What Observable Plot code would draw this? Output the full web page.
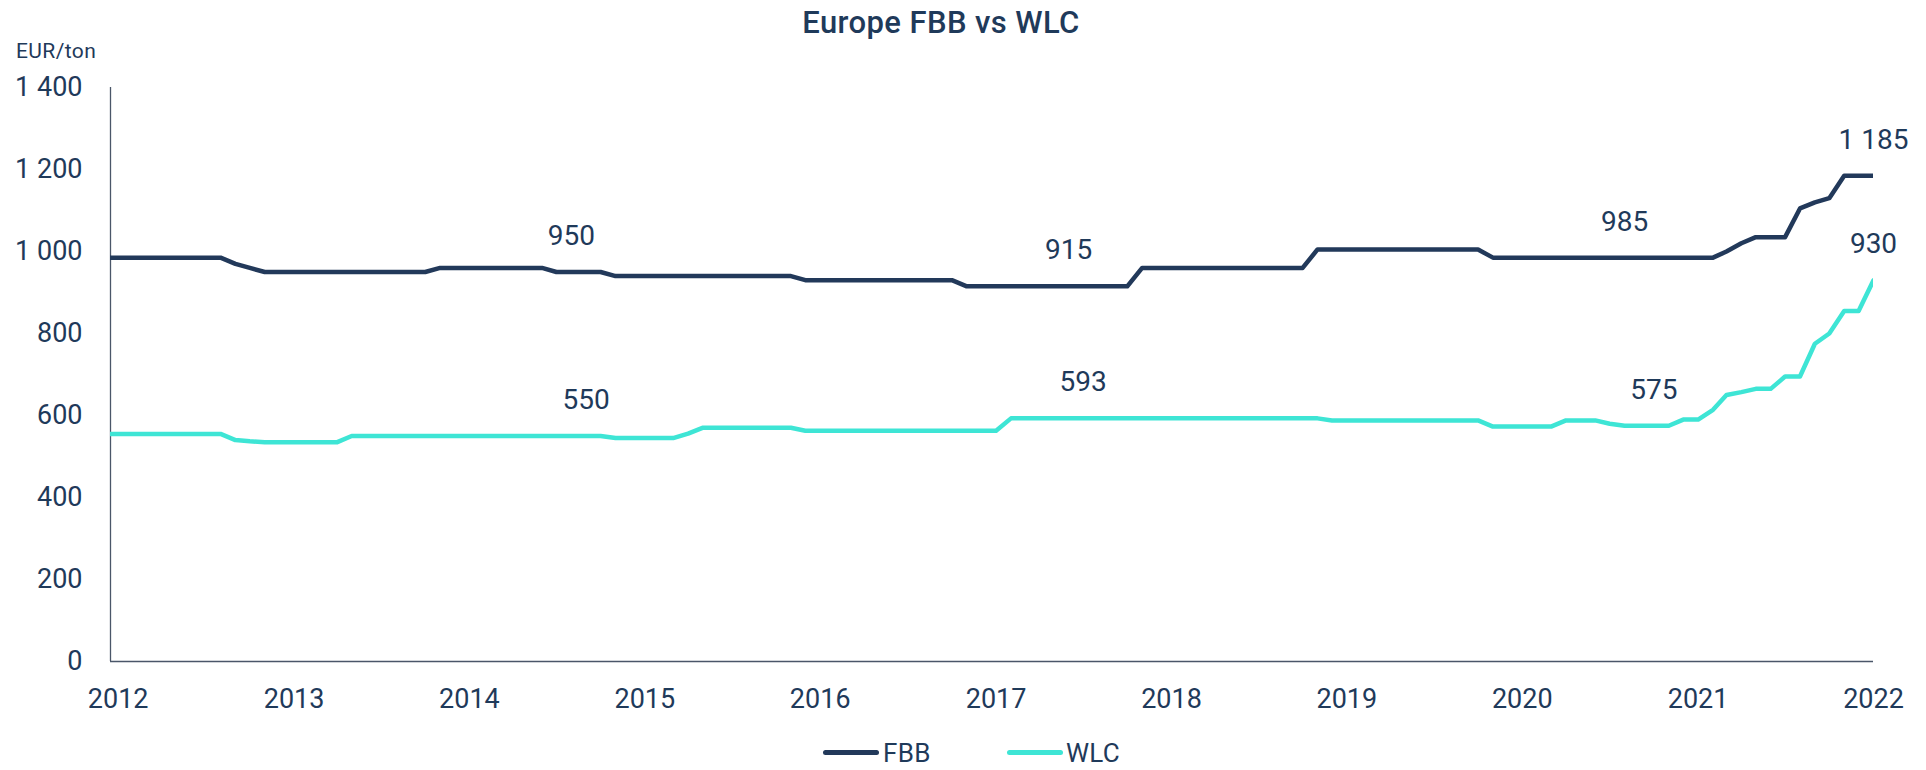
<!DOCTYPE html>
<html>
<head>
<meta charset="utf-8">
<script src="https://cdn.jsdelivr.net/npm/d3@7"></script>
<script src="https://cdn.jsdelivr.net/npm/@observablehq/plot@0.6"></script>
<style>
  body { margin: 0; background: #fff; font-family: Roboto, "Noto Sans", sans-serif; }
  #wrap { position: relative; width: 1926px; height: 770px; overflow: hidden; background: #fff; }
  #chart { position: absolute; left: 0; top: 0; }
  .title { position: absolute; left: 0; width: 1882px; text-align: center; top: 7px; font-size: 31px; line-height: 1; font-weight: 500; letter-spacing: 0.4px; color: #1f3a5a; white-space: nowrap; }
  .unit { position: absolute; left: 16px; top: 41px; font-size: 21px; line-height: 1; letter-spacing: 0.4px; color: #1f3a5a; white-space: nowrap; }
  .legend { position: absolute; top: 740px; font-size: 26px; line-height: 1; letter-spacing: 0.3px; color: #1f3a5a; white-space: nowrap; }
  .sw { position: absolute; top: 750px; width: 56px; height: 5px; border-radius: 3px; }
</style>
</head>
<body>
<div id="wrap">
  <div id="chart"></div>
  <div class="title">Europe FBB vs WLC</div>
  <div class="unit">EUR/ton</div>
  <div class="sw" id="sw1" style="left:823px"></div>
  <div class="legend" id="lg1" style="left:883px"></div>
  <div class="sw" id="sw2" style="left:1007px"></div>
  <div class="legend" id="lg2" style="left:1066px"></div>
</div>
<script>
// ---- data ----
const seriesNames = ["FBB", "WLC"];
const seriesColors = ["#22395a", "#3ee5d5"];
const startMonth = "2011-12"; // first monthly observation
// FBB monthly price, EUR/ton (Dec 2011 .. Jan 2022)
const fbb = [
  985, 985, 985, 985, 985, 985, 985, 985, 985, 970, 960,
  950, 950, 950, 950, 950, 950, 950, 950, 950, 950, 950, 950,
  960, 960, 960, 960, 960, 960, 960, 960,
  950, 950, 950, 950,
  940, 940, 940, 940, 940, 940, 940, 940, 940, 940, 940, 940, 940,
  930, 930, 930, 930, 930, 930, 930, 930, 930, 930, 930,
  915, 915, 915, 915, 915, 915, 915, 915, 915, 915, 915, 915,
  960, 960, 960, 960, 960, 960, 960, 960, 960, 960, 960, 960,
  1005, 1005, 1005, 1005, 1005, 1005, 1005, 1005, 1005, 1005, 1005, 1005,
  985, 985, 985, 985, 985, 985, 985, 985, 985, 985, 985, 985, 985, 985, 985, 985,
  1000, 1020, 1035, 1035, 1035, 1105, 1120, 1130, 1185, 1185, 1185
];
// WLC monthly price, EUR/ton (Dec 2011 .. Jan 2022)
const wlc = [
  555, 555, 555, 555, 555, 555, 555, 555, 555, 540, 537,
  535, 535, 535, 535, 535, 535,
  550, 550, 550, 550, 550, 550, 550, 550, 550, 550, 550, 550, 550, 550, 550, 550, 550, 550,
  545, 545, 545, 545, 545, 556,
  570, 570, 570, 570, 570, 570, 570,
  563, 563, 563, 563, 563, 563, 563, 563, 563, 563, 563, 563, 563, 563,
  593, 593, 593, 593, 593, 593, 593, 593, 593, 593, 593,
  593, 593, 593, 593, 593, 593, 593, 593, 593, 593, 593,
  588, 588, 588, 588, 588, 588, 588, 588, 588, 588, 588,
  573, 573, 573, 573, 573, 588, 588, 588, 580,
  575, 575, 575, 575, 590, 590,
  614, 650, 657, 665, 665, 695, 695, 775, 800, 855, 855, 930
];
// annotated months per series
const fbbLabelMonths = ["2014-08", "2017-06", "2020-08", "2022-01"];
const wlcLabelMonths = ["2014-09", "2017-07", "2020-10", "2022-01"];
// axis ticks
const yearTicks = [2012, 2013, 2014, 2015, 2016, 2017, 2018, 2019, 2020, 2021, 2022];
const yTicks = [0, 200, 400, 600, 800, 1000, 1200, 1400];

// ---- build ----
const parseMonth = d3.utcParse("%Y-%m");
const fmt = d3.formatLocale({decimal: ",", thousands: " ", grouping: [3], currency: ["", ""]}).format(",d");
const start = parseMonth(startMonth);
const toRows = (vals, name) => vals.map((v, i) => ({date: d3.utcMonth.offset(start, i), value: v, series: name}));
const fbbRows = toRows(fbb, "FBB");
const wlcRows = toRows(wlc, "WLC");
const pick = (rows, months) => months.map(m => rows.find(r => +r.date === +parseMonth(m)));
const labels = [...pick(fbbRows, fbbLabelMonths), ...pick(wlcRows, wlcLabelMonths)];
const xStart = new Date(Date.UTC(2011, 11, 16));
const xEnd = new Date(Date.UTC(2022, 0, 1));
const yearDates = yearTicks.map(y => new Date(Date.UTC(y, 0, 1)));
const axisColor = "#4a5669";
const textColor = "#1f3a5a";

const chart = Plot.plot({
  width: 1926,
  height: 770,
  marginLeft: 110,
  marginRight: 53,
  marginTop: 87,
  marginBottom: 109,
  style: {fontFamily: "Roboto, 'Noto Sans', sans-serif", fontSize: "27px", color: textColor, background: "transparent", overflow: "visible"},
  x: {type: "utc", domain: [xStart, xEnd]},
  y: {domain: [0, 1400]},
  marks: [
    Plot.axisX(yearDates, {tickFormat: d3.utcFormat("%Y"), tickSize: 0, tickPadding: 27, label: null, fontSize: 27}),
    Plot.axisY(yTicks, {tickFormat: fmt, tickSize: 0, tickPadding: 28, label: null, fontSize: 27}),
    Plot.ruleX([xStart], {y1: 0, y2: 1400, stroke: axisColor, strokeWidth: 1.3}),
    Plot.ruleY([0], {stroke: axisColor, strokeWidth: 1.5}),
    Plot.line(fbbRows, {x: "date", y: "value", stroke: seriesColors[0], strokeWidth: 4.5, clip: true}),
    Plot.line(wlcRows, {x: "date", y: "value", stroke: seriesColors[1], strokeWidth: 4.5, clip: true}),
    Plot.text(labels, {x: "date", y: "value", text: d => fmt(d.value), dy: -36, fontSize: 28, fill: textColor})
  ]
});
document.getElementById("chart").appendChild(chart);
document.getElementById("sw1").style.background = seriesColors[0];
document.getElementById("sw2").style.background = seriesColors[1];
document.getElementById("lg1").textContent = seriesNames[0];
document.getElementById("lg2").textContent = seriesNames[1];
</script>
</body>
</html>
